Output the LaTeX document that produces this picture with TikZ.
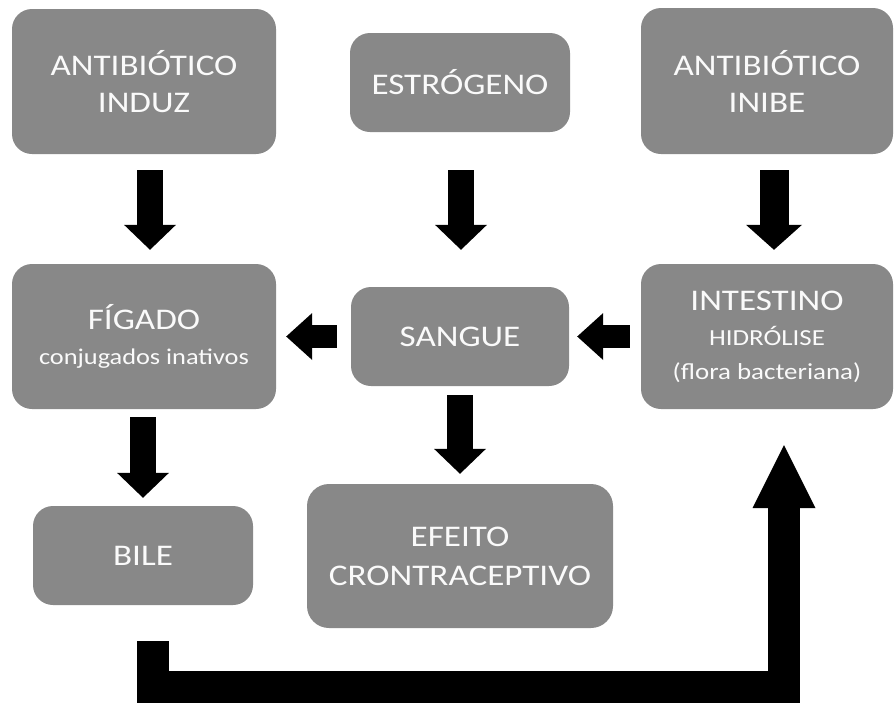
\documentclass[tikz,border=0pt]{standalone}
\usepackage{fontspec}
\setmainfont{Carlito}[FakeStretch=1.17]
\usetikzlibrary{arrows.meta}
\definecolor{boxgray}{RGB}{136,136,136}
\definecolor{boxtext}{RGB}{250,250,250}
\tikzset{
  box/.style={fill=boxgray, draw=none, rounded corners=20pt, inner sep=0pt,
    text=boxtext, align=center, font=\fontsize{30}{37}\selectfont},
  blk/.style={line width=26pt, draw=black,
    -{Triangle[width=52pt,length=25pt,line width=0pt]}},
  blkh/.style={line width=23pt, draw=black,
    -{Triangle[width=47pt,length=26pt,line width=0pt]}},
  bigarrow/.style={line width=32pt, draw=black, line join=miter,
    -{Triangle[width=63pt,length=63pt,line width=0pt]}}
}
\begin{document}
\begin{tikzpicture}[x=1pt,y=-1pt]
\useasboundingbox[fill=white] (0,0) rectangle (894,702);

\node[box, minimum width=264pt, minimum height=145pt] (induz) at (144,81.5) {ANTIBIÓTICO\\INDUZ};
\node[box, minimum width=220pt, minimum height=99pt] (estro) at (460,82.5) {ESTRÓGENO};
\node[box, minimum width=252pt, minimum height=146pt] (inibe) at (767,81) {ANTIBIÓTICO\\INIBE};

\node[box, minimum width=264pt, minimum height=145pt] (figado) at (144,336.5)
  {FÍGADO\\[-2pt]{\fontsize{22.5}{30}\selectfont conjugados inativos}};
\node[box, minimum width=218pt, minimum height=99pt] (sangue) at (460,336.5) {SANGUE};
\node[box, minimum width=252pt, minimum height=145pt] (intest) at (767,336.5)
  {INTESTINO\\[-2pt]{\fontsize{23}{30}\selectfont HIDRÓLISE}\\[-3pt]{\fontsize{23}{30}\selectfont (flora bacteriana)}};

\node[box, minimum width=220pt, minimum height=99pt] (bile) at (143,555.5) {BILE};
\node[box, minimum width=306pt, minimum height=144pt, rounded corners=22pt] (efeito) at (460,556)
  {EFEITO\\[2pt]CRONTRACEPTIVO};

% vertical arrows
\draw[blk, shorten <=16pt, shorten >=14pt] ([xshift=6pt]induz.south) -- ([xshift=6pt]figado.north);
\draw[blk, shorten <=38pt, shorten >=37pt] ([xshift=1pt]estro.south) -- ([xshift=1pt]sangue.north);
\draw[blk, line width=29pt, shorten <=16pt, shorten >=14pt,
  -{Triangle[width=56pt,length=25pt,line width=0pt]}] ([xshift=7pt]inibe.south) -- ([xshift=7pt]intest.north);
\draw[blk, shorten <=8pt, shorten >=8pt] ([xshift=-1pt]figado.south) -- (bile.north);
\draw[blk, shorten <=9pt, shorten >=10pt] (sangue.south) -- (efeito.north);

% horizontal arrows
\draw[blkh, shorten <=14pt, shorten >=10pt] (sangue.west) -- (figado.east);
\draw[blkh, shorten <=11pt, shorten >=8pt] (intest.west) -- (sangue.east);

% big return arrow
\coordinate (turnL) at (153,687);
\coordinate (turnR) at (784,687);
\draw[bigarrow, shorten >=36pt] ([xshift=10pt,yshift=-36pt]bile.south) -- (turnL) -- (turnR) -- (turnR |- intest.south);
\end{tikzpicture}
\end{document}
